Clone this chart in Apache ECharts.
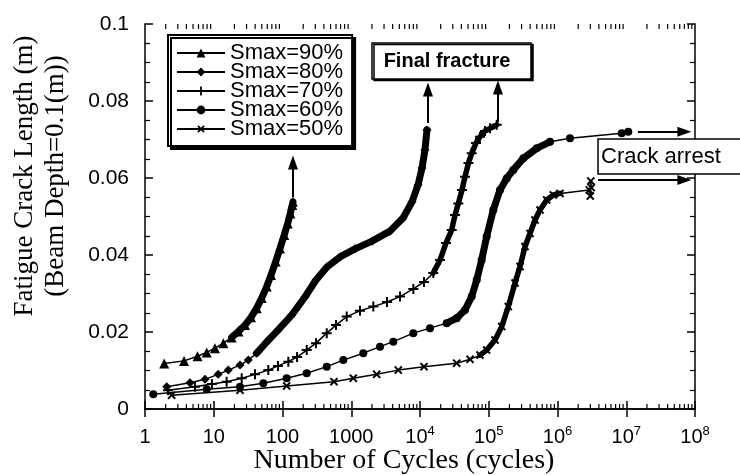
<!DOCTYPE html>
<html><head><meta charset="utf-8">
<script src="https://cdn.jsdelivr.net/npm/echarts@6/dist/echarts.min.js"></script>
<style>html,body{margin:0;padding:0;background:#fff}#c{width:740px;height:475px}</style>
</head><body><div id="c"></div>
<script>
// ---------- data ----------
const seriesNames = ['Smax=90%', 'Smax=80%', 'Smax=70%', 'Smax=60%', 'Smax=50%'];
const xTickValues = [1, 10, 100, 1000, 1e4, 1e5, 1e6, 1e7, 1e8];
const yTickLabels = ['0', '0.02', '0.04', '0.06', '0.08', '0.1'];
const xTitle = 'Number of Cycles (cycles)';
const yTitleLines = ['Fatigue Crack Length (m)', '(Beam Depth=0.1(m))'];

const s90Cycles = [1.9, 3.7, 5.8, 7.9, 10.4, 13.8, 18.2, 22.8, 28.5, 34.8, 42.1, 49.8, 58.9, 68.1, 79.6, 92, 106, 119, 130, 139, 142];
const s90Length = [0.0118, 0.0125, 0.0137, 0.0147, 0.0158, 0.0171, 0.0186, 0.0201, 0.0218, 0.0238, 0.0262, 0.0288, 0.0318, 0.0348, 0.0383, 0.0417, 0.0452, 0.0482, 0.0508, 0.0530, 0.0538];

const s80Cycles = [2.07, 4.51, 7.46, 11.6, 16.3, 24.1, 31.8, 42.2, 58.9, 86, 136, 212, 307, 444, 686, 1134, 2006, 3660, 5660, 7650, 9360, 10700, 11800, 12650];
const s80Length = [0.0058, 0.0068, 0.0077, 0.0090, 0.0101, 0.0114, 0.0127, 0.0145, 0.0174, 0.0205, 0.0244, 0.0291, 0.0335, 0.0369, 0.0395, 0.0416, 0.0436, 0.0462, 0.0496, 0.0538, 0.0582, 0.0626, 0.0673, 0.0725];

const s70Cycles = [2.16, 5.34, 9.4, 15.4, 25.5, 39.8, 62.2, 86, 121.5, 163, 225, 307, 440, 600, 859, 1340, 2094, 3311, 5120, 8000, 11430, 15600, 19540, 23900, 28900, 32300, 36100, 40800, 45100, 50700, 56500, 65300, 74600, 88200, 104300, 130600];
const s70Length = [0.0049, 0.0058, 0.0065, 0.0071, 0.0080, 0.0090, 0.0101, 0.0112, 0.0123, 0.0135, 0.0153, 0.0171, 0.0197, 0.0218, 0.0240, 0.0255, 0.0266, 0.0278, 0.0292, 0.0312, 0.0330, 0.0353, 0.0387, 0.0431, 0.0465, 0.0504, 0.0534, 0.0569, 0.0603, 0.0639, 0.0664, 0.0691, 0.0707, 0.0722, 0.0729, 0.0738];

const s60Cycles = [1.32, 7.9, 24.1, 52.6, 115, 225, 440, 766, 1497, 2620, 4090, 8000, 13970, 24450, 34200, 45100, 56500, 66800, 78900, 93300, 116500, 145900, 182400, 227700, 318400, 497900, 778000, 1.52e6, 8.59e6, 1.07e7];
const s60Length = [0.0038, 0.0051, 0.0058, 0.0067, 0.0080, 0.0093, 0.0110, 0.0127, 0.0145, 0.0162, 0.0175, 0.0197, 0.0210, 0.0223, 0.0236, 0.0257, 0.0292, 0.0335, 0.0387, 0.0448, 0.0517, 0.0569, 0.0599, 0.0621, 0.0651, 0.0677, 0.0694, 0.0703, 0.0716, 0.0720];

const s50Cycles = [2.44, 24.1, 115, 561, 1071, 2345, 4830, 11430, 34200, 53400, 74600, 93300, 123300, 154300, 192500, 240900, 285000, 336800, 398100, 470800, 556300, 696200, 869500, 1.087e6, 2.9e6, 3.0e6, 3.05e6, 3.1e6];
const s50Length = [0.0036, 0.0049, 0.0060, 0.0071, 0.0080, 0.0090, 0.0101, 0.0110, 0.0119, 0.0129, 0.0140, 0.0153, 0.0179, 0.0214, 0.0266, 0.0327, 0.0370, 0.0422, 0.0456, 0.0491, 0.0517, 0.0543, 0.0556, 0.0560, 0.0569, 0.0553, 0.0592, 0.0575];

// where the densely-plotted part of each curve begins / ends (index into arrays)
const denseRanges = [[6, 21], [7, 24], [21, 36], [13, 27], [10, 24]];

// annotation arrows: [cycles, fromLength, toLength] (vertical) and [fromCycles, toCycles, length] (horizontal)
const fractureArrows = [[142, 0.0550, 0.0640], [13060, 0.0743, 0.0830], [136000, 0.0745, 0.0835]];
const arrestArrows = [[1.48e7, 7.0e7, 0.0720], [3.9e6, 7.0e7, 0.0595]];

// ---------- chart ----------
const allCycles = [s90Cycles, s80Cycles, s70Cycles, s60Cycles, s50Cycles];
const allLength = [s90Length, s80Length, s70Length, s60Length, s50Length];
const plusPath = 'path://M4,0H6V4H10V6H6V10H4V6H0V4H4Z';
const symbols = ['triangle', 'diamond', plusPath, 'circle', plusPath];
const symbolRot = [0, 0, 0, 0, 45];
const symbolSizes = [10, 9, 10, 8, 10];
const bandWidths = [7, 7, 5.5, 7, 5.5];
const SANS = 'Liberation Sans';
const SERIF = 'Liberation Serif';

function pairs(i) { return allCycles[i].map((c, k) => [c, allLength[i][k]]); }

const series = [];
seriesNames.forEach((name, i) => {
  series.push({
    type: 'line', name, data: pairs(i),
    symbol: symbols[i], symbolRotate: symbolRot[i], symbolSize: symbolSizes[i],
    showAllSymbol: true,
    lineStyle: { color: '#000', width: 1.5 },
    itemStyle: { color: '#000', borderColor: '#000', borderWidth: 0 },
    emphasis: { disabled: true }, z: 3
  });
});
seriesNames.forEach((name, i) => {
  const r = denseRanges[i];
  series.push({
    type: 'line', name, data: pairs(i).slice(r[0], r[1]),
    symbol: 'none', silent: true, legendHoverLink: false,
    lineStyle: { color: '#000', width: bandWidths[i], cap: 'round', join: 'round' },
    emphasis: { disabled: true }, z: 2
  });
});

// arrows
const arrowLines = fractureArrows.map(a => [{ coord: [a[0], a[1]] }, { coord: [a[0], a[2]] }])
  .concat(arrestArrows.map(a => [{ coord: [a[0], a[2]] }, { coord: [a[1], a[2]] }]));
series.push({
  type: 'line', name: 'arrows', data: [], silent: true,
  markLine: {
    silent: true, animation: false, symbol: ['none', 'triangle'], symbolSize: [10, 14],
    label: { show: false }, emphasis: { disabled: true },
    lineStyle: { color: '#000', width: 2, type: 'solid' },
    itemStyle: { color: '#000' },
    data: arrowLines
  }
});

// minor (log) ticks on bottom and top x axes
const minorX = [];
for (let k = 0; k < xTickValues.length - 1; k++) for (let m = 2; m <= 9; m++) minorX.push([m * xTickValues[k], 0]);
series.push({
  type: 'custom', name: 'minor', silent: true, z: 5, data: minorX,
  encode: { x: 0, y: 1 },
  renderItem(params, api) {
    const v = api.value(0);
    const pb = api.coord([v, 0]);
    const pt = api.coord([v, 0.1]);
    return {
      type: 'group', children: [
        { type: 'line', shape: { x1: pb[0], y1: pb[1], x2: pb[0], y2: pb[1] - 5 }, style: { stroke: '#000', lineWidth: 1.2 } },
        { type: 'line', shape: { x1: pt[0], y1: pt[1], x2: pt[0], y2: pt[1] + 5 }, style: { stroke: '#000', lineWidth: 1.2 } }
      ]
    };
  }
});

const axisLine = { show: true, lineStyle: { color: '#000', width: 1.5 } };
const axisTick = { show: true, inside: true, length: 8, lineStyle: { color: '#000', width: 1.5 } };
function xFmt(v) {
  const e = Math.round(Math.log10(v));
  return e < 4 ? '{b|' + Math.round(v) + '}' : '{b|10}{s|' + e + '}';
}
const xAxisBase = { type: 'log', logBase: 10, min: 1, max: 1e8, splitNumber: 8, gridIndex: 0, axisLine, axisTick, splitLine: { show: false } };
const yAxisBase = {
  type: 'value', min: 0, max: 0.1, interval: 0.02, axisLine, axisTick,
  minorTick: { show: true, splitNumber: 4, length: 5, lineStyle: { color: '#000', width: 1.2 } },
  splitLine: { show: false }, minorSplitLine: { show: false }
};

const option = {
  animation: false,
  backgroundColor: '#fff',
  grid: { left: 145, right: 45, top: 24, bottom: 66, outerBoundsMode: 'none' },
  xAxis: [
    Object.assign({}, xAxisBase, {
      position: 'bottom',
      axisLabel: {
        margin: 16, color: '#000', formatter: xFmt,
        rich: {
          b: { fontSize: 20, fontFamily: SANS, color: '#000', lineHeight: 24 },
          s: { fontSize: 13, fontFamily: SANS, color: '#000', lineHeight: 12, verticalAlign: 'top' }
        }
      }
    }),
    Object.assign({}, xAxisBase, { position: 'top', axisLabel: { show: false } })
  ],
  yAxis: [
    Object.assign({}, yAxisBase, {
      position: 'left',
      axisLabel: { margin: 16, fontSize: 21, fontFamily: SANS, color: '#000',
        formatter: (v) => yTickLabels[Math.round(v / 0.02)] }
    }),
    Object.assign({}, yAxisBase, { position: 'right', axisLabel: { show: false } })
  ],
  legend: {
    data: seriesNames, orient: 'vertical', left: 168, top: 35, padding: [7, 9, 6, 8],
    itemGap: -3, itemWidth: 48, itemHeight: 11, selectedMode: false,
    backgroundColor: '#fff', borderColor: '#000', borderWidth: 2,
    shadowColor: '#000', shadowOffsetX: 3, shadowOffsetY: 3, shadowBlur: 0,
    textStyle: { fontSize: 22, fontFamily: SANS, color: '#000' }
  },
  graphic: [
    { type: 'text', x: 40, y: 176, rotation: Math.PI / 2,
      style: { text: yTitleLines.join('\n'), fontFamily: SERIF, fontSize: 27, lineHeight: 31, align: 'center', verticalAlign: 'middle', fill: '#000' } },
    { type: 'text', x: 404, y: 461,
      style: { text: xTitle, fontFamily: SERIF, fontSize: 28, align: 'center', verticalAlign: 'middle', fill: '#000' } },
    { type: 'rect', z: 100, shape: { x: 372, y: 43, width: 159, height: 36 },
      style: { fill: '#fff', stroke: '#000', lineWidth: 1.5, shadowColor: '#000', shadowOffsetX: 2, shadowOffsetY: 1.5, shadowBlur: 0 } },
    { type: 'text', z: 101, x: 447, y: 61,
      style: { text: 'Final fracture', fontFamily: SANS, fontSize: 20, fontWeight: 'bold', align: 'center', verticalAlign: 'middle', fill: '#000' } },
    { type: 'rect', z: 100, shape: { x: 598, y: 139, width: 160, height: 35 },
      style: { fill: '#fff', stroke: '#000', lineWidth: 1.5 } },
    { type: 'text', z: 101, x: 601, y: 157,
      style: { text: 'Crack arrest', fontFamily: SANS, fontSize: 22, align: 'left', verticalAlign: 'middle', fill: '#000' } }
  ],
  series
};

const chart = echarts.init(document.getElementById('c'), null, { renderer: 'canvas' });
chart.setOption(option);
</script>
</body></html>
